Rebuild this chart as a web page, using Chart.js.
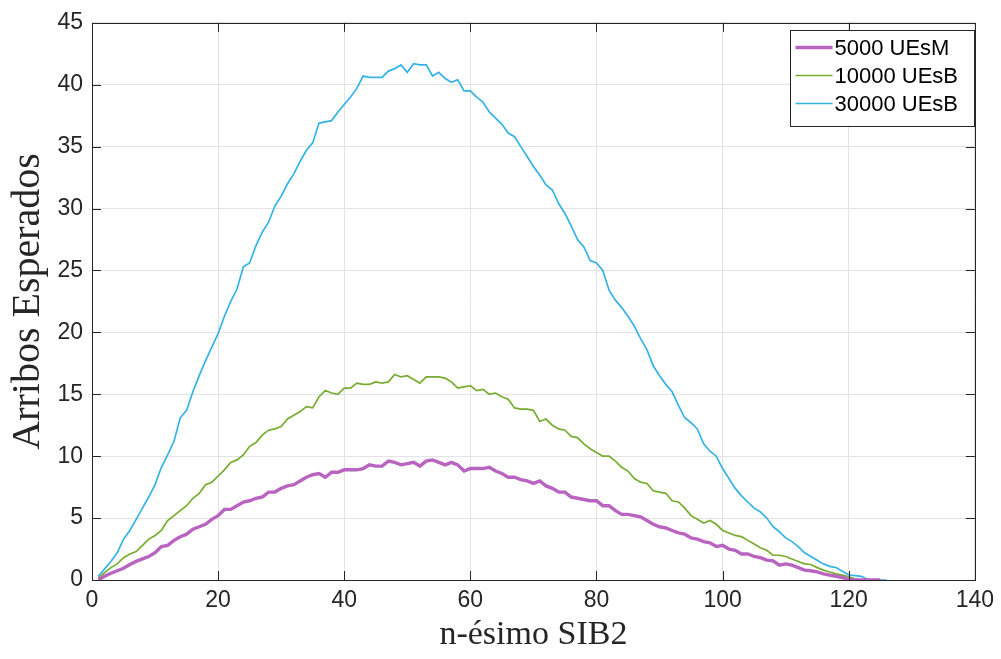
<!DOCTYPE html>
<html>
<head>
<meta charset="utf-8">
<script src="https://cdn.jsdelivr.net/npm/chart.js@4/dist/chart.umd.min.js"></script>
<style>
  body { margin: 0; background: #fff; }
</style>
</head>
<body>
<canvas id="c" width="1001" height="659"></canvas>
<script>
// values, one per SIB2 index starting at 1
var seriesNames = ["5000 UEsM", "10000 UEsB", "30000 UEsB"];

var ues5000M = [0, 0.3, 0.55, 0.75, 0.95, 1.25, 1.5, 1.7, 1.9, 2.2,
  2.7, 2.8, 3.2, 3.5, 3.7, 4.1, 4.3, 4.5, 4.9, 5.2,
  5.7, 5.7, 6.0, 6.3, 6.4, 6.6, 6.7, 7.1, 7.1, 7.4,
  7.6, 7.7, 8.0, 8.3, 8.5, 8.6, 8.3, 8.7, 8.7, 8.9,
  8.9, 8.9, 9.0, 9.3, 9.2, 9.2, 9.6, 9.5, 9.3, 9.4,
  9.5, 9.2, 9.6, 9.7, 9.5, 9.3, 9.5, 9.3, 8.8, 9.0,
  9.0, 9.0, 9.1, 8.8, 8.6, 8.3, 8.3, 8.1, 8.0, 7.8,
  8.0, 7.6, 7.4, 7.1, 7.1, 6.7, 6.6, 6.5, 6.4, 6.4,
  6.0, 6.0, 5.6, 5.3, 5.3, 5.2, 5.1, 4.8, 4.5, 4.3,
  4.2, 4.0, 3.8, 3.7, 3.4, 3.3, 3.1, 3.0, 2.7, 2.8,
  2.5, 2.4, 2.1, 2.1, 1.9, 1.8, 1.6, 1.55, 1.2, 1.3,
  1.2, 1.0, 0.8, 0.75, 0.65, 0.5, 0.4, 0.3, 0.2, 0.05,
  0, 0, 0, 0, 0];

var ues10000B = [0.15, 0.6, 1.0, 1.3, 1.8, 2.1, 2.3, 2.8, 3.3, 3.6,
  4.0, 4.8, 5.2, 5.6, 6.0, 6.6, 7.0, 7.7, 7.9, 8.4,
  8.9, 9.5, 9.7, 10.1, 10.8, 11.1, 11.7, 12.1, 12.2, 12.4,
  13.0, 13.3, 13.6, 14.0, 13.9, 14.8, 15.3, 15.1, 15.0, 15.5,
  15.5, 15.9, 15.8, 15.8, 16.0, 15.9, 16.0, 16.6, 16.4, 16.5,
  16.2, 15.9, 16.4, 16.4, 16.4, 16.3, 16.0, 15.5, 15.6, 15.7,
  15.3, 15.4, 15.0, 15.1, 14.8, 14.6, 13.9, 13.8, 13.8, 13.7,
  12.8, 13.0, 12.5, 12.2, 12.1, 11.6, 11.5, 11.0, 10.6, 10.3,
  10.0, 10.0, 9.6, 9.1, 8.8, 8.2, 7.9, 7.8, 7.2, 7.1,
  7.0, 6.4, 6.3, 5.8, 5.2, 4.9, 4.6, 4.8, 4.5, 4.0,
  3.8, 3.6, 3.5, 3.2, 2.9, 2.6, 2.4, 2.0, 2.0, 1.9,
  1.7, 1.5, 1.3, 1.25, 1.0, 0.8, 0.65, 0.5, 0.4, 0.25,
  0.1, 0, 0, 0];

var ues30000B = [0.3, 0.9, 1.5, 2.2, 3.3, 4.0, 4.9, 5.8, 6.7, 7.7,
  9.1, 10.1, 11.2, 13.1, 13.7, 15.2, 16.5, 17.7, 18.8, 19.9,
  21.3, 22.5, 23.5, 25.3, 25.6, 27.0, 28.1, 28.9, 30.2, 31.0,
  32.0, 32.8, 33.8, 34.7, 35.3, 36.9, 37.0, 37.1, 37.8, 38.4,
  39.0, 39.7, 40.7, 40.6, 40.6, 40.6, 41.1, 41.3, 41.6, 41.0,
  41.7, 41.6, 41.6, 40.7, 41.0, 40.5, 40.2, 40.4, 39.5, 39.5,
  39.0, 38.6, 37.8, 37.3, 36.8, 36.1, 35.8, 35.0, 34.2, 33.4,
  32.7, 31.9, 31.5, 30.4, 29.6, 28.6, 27.5, 26.9, 25.8, 25.6,
  25.0, 23.4, 22.6, 22.0, 21.3, 20.5, 19.5, 18.6, 17.3, 16.5,
  15.8, 15.2, 14.1, 13.1, 12.7, 12.2, 11.0, 10.4, 10.0, 9.0,
  8.2, 7.4, 6.8, 6.3, 5.8, 5.5, 5.0, 4.3, 3.9, 3.4,
  3.1, 2.7, 2.2, 1.9, 1.6, 1.3, 1.1, 1.0, 0.7, 0.4,
  0.35, 0.3, 0.05, 0, 0, 0];

var xTicks = [0, 20, 40, 60, 80, 100, 120, 140];
var yTicks = [0, 5, 10, 15, 20, 25, 30, 35, 40, 45];

function toPoints(vals) {
  return vals.map(function (v, i) { return { x: i + 1, y: v }; });
}

// box around the axes plus inward ticks, matlab style
var boxPlugin = {
  id: 'box',
  afterDraw: function (chart) {
    var ctx = chart.ctx, a = chart.chartArea;
    var xs = chart.scales.x, ys = chart.scales.y;
    ctx.save();
    ctx.strokeStyle = '#262626';
    ctx.lineWidth = 1;
    ctx.beginPath();
    xTicks.forEach(function (t) {
      var px = Math.round(xs.getPixelForValue(t)) + 0.5;
      ctx.moveTo(px, a.bottom); ctx.lineTo(px, a.bottom - 9);
      ctx.moveTo(px, a.top); ctx.lineTo(px, a.top + 9);
    });
    yTicks.forEach(function (t) {
      var py = Math.round(ys.getPixelForValue(t)) + 0.5;
      ctx.moveTo(a.left, py); ctx.lineTo(a.left + 9, py);
      ctx.moveTo(a.right, py); ctx.lineTo(a.right - 9, py);
    });
    ctx.stroke();
    ctx.strokeRect(Math.round(a.left) + 0.5, Math.round(a.top) + 0.5,
      Math.round(a.right - a.left), Math.round(a.bottom - a.top));

    // legend box top-right
    var lx = 790.5, ly = 30.5, lw = 184, lh = 96;
    ctx.fillStyle = '#fff';
    ctx.fillRect(lx, ly, lw, lh);
    ctx.strokeStyle = '#262626';
    ctx.strokeRect(lx, ly, lw, lh);
    ctx.font = '22px "Liberation Sans", Arial, sans-serif';
    ctx.textBaseline = 'middle';
    chart.data.datasets.forEach(function (ds, i) {
      var yy = ly + 17 + i * 28;
      ctx.strokeStyle = ds.borderColor;
      ctx.lineWidth = ds.borderWidth;
      ctx.beginPath();
      ctx.moveTo(lx + 5, yy); ctx.lineTo(lx + 42, yy);
      ctx.stroke();
      ctx.fillStyle = '#000';
      ctx.fillText(ds.label, lx + 44, yy + 1);
    });
    ctx.restore();
  }
};

var tickFont = { family: '"Liberation Sans", Arial, sans-serif', size: 23 };

new Chart(document.getElementById('c'), {
  type: 'line',
  data: {
    datasets: [
      { label: seriesNames[0], data: toPoints(ues5000M), borderColor: '#B964C0', borderWidth: 3.4 },
      { label: seriesNames[1], data: toPoints(ues10000B), borderColor: '#77AC30', borderWidth: 1.7 },
      { label: seriesNames[2], data: toPoints(ues30000B), borderColor: '#34B3E6', borderWidth: 1.7 }
    ]
  },
  options: {
    responsive: false,
    animation: false,
    layout: { padding: { top: 22, right: 23, left: 0, bottom: 0 } },
    elements: { point: { radius: 0 }, line: { tension: 0 } },
    plugins: { legend: { display: false }, tooltip: { enabled: false } },
    scales: {
      x: {
        type: 'linear', min: 0, max: 140,
        afterBuildTicks: function (s) { s.ticks = xTicks.map(function (v) { return { value: v }; }); },
        grid: { color: '#e3e3e3', tickLength: 0, drawTicks: false },
        border: { display: false },
        ticks: { color: '#262626', font: tickFont, padding: 7, maxRotation: 0 },
        title: { display: true, text: 'n-ésimo SIB2', color: '#262626',
          font: { family: '"Liberation Serif", "Times New Roman", serif', size: 34 }, padding: { top: 0 } },
        afterFit: function (s) { s.height = 79; }
      },
      y: {
        min: 0, max: 45,
        afterBuildTicks: function (s) { s.ticks = yTicks.map(function (v) { return { value: v }; }); },
        grid: { color: '#e3e3e3', tickLength: 0, drawTicks: false },
        border: { display: false },
        ticks: { color: '#262626', font: tickFont, padding: 9 },
        title: { display: true, text: 'Arribos Esperados', color: '#262626',
          font: { family: '"Liberation Serif", "Times New Roman", serif', size: 40 }, padding: { bottom: 0 } },
        afterFit: function (s) { s.width = 92; }
      }
    }
  },
  plugins: [boxPlugin]
});
</script>
</body>
</html>
